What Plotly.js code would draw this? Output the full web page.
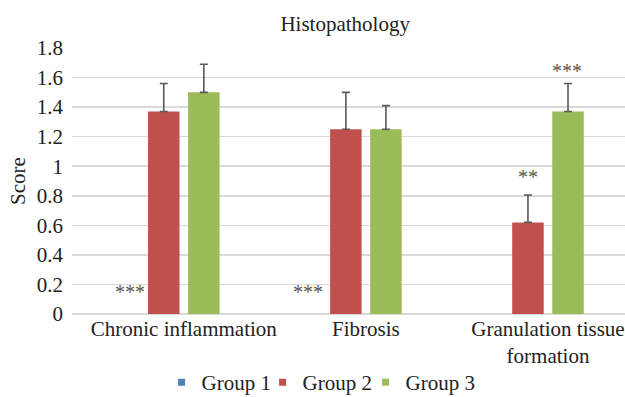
<!DOCTYPE html>
<html><head><meta charset="utf-8">
<script src="https://cdn.plot.ly/plotly-3.0.1.min.js"></script>
<style>html,body{margin:0;padding:0;background:#fff}#chart{width:625px;height:397px}</style>
</head><body><div id="chart"></div>
<script>
const categories = ["Chronic inflammation", "Fibrosis", "Granulation tissue<br>formation"];
const seriesNames = ["Group 1", "Group 2", "Group 3"];
const group1 = [0, 0, 0];
const group2 = [1.37, 1.25, 0.62];
const group3 = [1.50, 1.25, 1.37];
const err1 = [0, 0, 0];
const err2 = [0.19, 0.25, 0.185];
const err3 = [0.19, 0.16, 0.19];
const colors = ["#4F81BD", "#C0504D", "#9BBB59"];
const sigLabels = ["***", "***", "**", "***"];
const sigY = [0.15, 0.15, 0.93, 1.645];

const font = "Liberation Serif";
const vals = [group1, group2, group3];
const errs = [err1, err2, err3];
const barWidth = 0.173;
const slotCenters = [-0.33, -0.11, 0.11];
const traces = vals.map((v, i) => ({
  type: "bar", x: categories, y: v, name: seriesNames[i], showlegend: false,
  width: barWidth, offset: slotCenters[i] - barWidth / 2,
  marker: {color: colors[i], line: {width: 0}},
  error_y: i === 0 ? {visible: false} : {type: "data", symmetric: false, array: errs[i], arrayminus: errs[i].map(() => 0), color: "#595959", thickness: 1.6, width: 4}
}));
const legendWidths = [56, 58, 70];
seriesNames.forEach((n, i) => traces.push({
  type: "scatter", mode: "markers", x: [null], y: [null], name: n, legendwidth: legendWidths[i],
  marker: {symbol: "square", size: 7, color: colors[i]}
}));

const annotations = [
  {x: categories[0], xshift: -54, y: sigY[0], text: sigLabels[0]},
  {x: categories[1], xshift: -58, y: sigY[1], text: sigLabels[1]},
  {x: categories[2], xshift: -20, y: sigY[2], text: sigLabels[2]},
  {x: categories[2], xshift: 19, y: sigY[3], text: sigLabels[3]}
].map(a => Object.assign(a, {xref: "x", yref: "y", showarrow: false, font: {family: font, size: 20, color: "#555555"}}));

const layout = {
  width: 625, height: 397,
  margin: {l: 72, r: 0, t: 48, b: 83, autoexpand: false},
  paper_bgcolor: "#fff", plot_bgcolor: "#fff",
  font: {family: font, size: 21, color: "#222"},
  title: {text: "Histopathology", xref: "paper", x: 0.494, xanchor: "center", yref: "container", y: 0.94, yanchor: "middle", font: {family: font, size: 21, color: "#222"}},
  barmode: "overlay",
  xaxis: {type: "category", range: [-0.614, 2.423], showgrid: false, zeroline: false, ticks: "", automargin: false, tickfont: {family: font, size: 21, color: "#222"}, showline: false},
  yaxis: {range: [0, 1.8], dtick: 0.2, tick0: 0, showgrid: true, automargin: false, gridcolor: "#d9d9d9", gridwidth: 1.5, zeroline: true, zerolinecolor: "#d9d9d9", zerolinewidth: 1.5,
    tickfont: {family: font, size: 21, color: "#222"}, ticklabelstandoff: 8,
    title: {text: "Score", font: {family: font, size: 21, color: "#222"}, standoff: 5}},
  legend: {orientation: "h", x: 0.162, xanchor: "left", y: -0.258, yanchor: "middle", font: {family: font, size: 21, color: "#222"}, itemwidth: 30, tracegroupgap: 0},
  annotations: annotations
};
Plotly.newPlot("chart", traces, layout, {staticPlot: true, displayModeBar: false});
</script></body></html>
